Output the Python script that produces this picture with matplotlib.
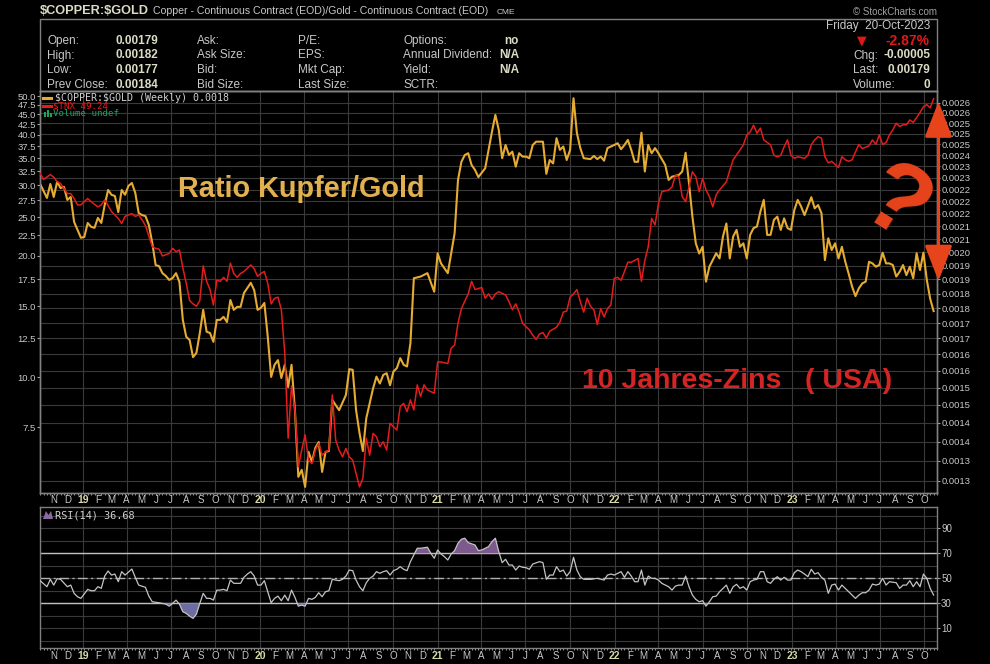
import numpy as np
import pandas as pd
import matplotlib
matplotlib.use('Agg')
import matplotlib.pyplot as plt
import matplotlib.dates as mdates
from matplotlib.patches import FancyArrowPatch, Rectangle, Polygon
from matplotlib.lines import Line2D
from matplotlib.ticker import FixedLocator, NullLocator, FixedFormatter

plt.rcParams['font.family'] = ['Liberation Sans', 'DejaVu Sans']

# ---------------- data (weekly closes, week index from START) ----------------
START = '2018-10-05'

ratio_week = [0, 2, 3, 4, 5, 6, 7, 8, 9, 10, 11, 12, 13, 14, 15, 16, 17, 18, 19, 20,
              21, 22, 23, 24, 25, 26, 27, 28, 29, 30, 31, 32, 33, 34, 35, 36, 37, 38, 39, 40,
              41, 42, 43, 44, 45, 46, 47, 48, 49, 50, 51, 52, 53, 54, 55, 56, 57, 58, 59, 60,
              61, 62, 63, 64, 65, 66, 67, 68, 69, 70, 71, 72, 73, 74, 75, 76, 77, 78, 79, 80,
              81, 82, 83, 84, 85, 86, 88, 90, 91, 92, 93, 94, 95, 96, 97, 98, 99, 100, 101, 102,
              103, 104, 105, 106, 107, 108, 109, 110, 112, 114, 116, 117, 118, 120, 121, 122, 123, 124, 125, 126,
              127, 128, 129, 130, 131, 133, 134, 135, 136, 137, 138, 139, 140, 141, 142, 143, 144, 145, 146, 148,
              149, 150, 151, 152, 153, 154, 155, 156, 157, 158, 159, 160, 162, 163, 164, 165, 166, 167, 169, 170,
              171, 172, 173, 174, 175, 176, 177, 178, 179, 180, 181, 182, 184, 185, 186, 188, 189, 190, 191, 192,
              193, 194, 195, 196, 197, 199, 200, 201, 202, 203, 204, 205, 206, 207, 208, 209, 210, 211, 212, 213,
              214, 215, 216, 217, 218, 219, 220, 221, 222, 223, 224, 225, 227, 228, 229, 230, 231, 232, 233, 234,
              235, 236, 237, 238, 239, 240, 241, 242, 243, 244, 245, 246, 247, 248, 249, 250, 251, 252, 253, 254,
              255, 256, 257, 258, 259, 260, 261, 262, 263]
ratio_vals = [.002231, .002173, .002231, .002177, .002240, .002214, .002219, .002165, .002177, .002077,
              .002046, .002016, .002019, .002073, .002058, .002054, .002093, .002073, .002144, .002206,
              .002186, .002181, .002116, .002206, .002186, .002223, .002235, .002194, .002112, .002104,
              .002100, .002065, .001997, .001915, .001911, .001886, .001876, .001862, .001869, .001886,
              .001855, .001727, .001673, .001663, .001610, .001623, .001685, .001760, .001689, .001685,
              .001657, .001727, .001727, .001737, .001720, .001793, .001760, .001770, .001770, .001817,
              .001834, .001852, .001827, .001760, .001767, .001783, .001673, .001551, .001587, .001601,
              .001548, .001587, .001522, .001587, .001457, .001285, .001302, .001261, .001347, .001322,
              .001357, .001372, .001297, .001347, .001349, .001485, .001457, .001499, .001574, .001572,
              .001457, .001396, .001349, .001435, .001476, .001518, .001552, .001532, .001557, .001562,
              .001527, .001567, .001577, .001607, .001587, .001582, .001653, .001868, .001874, .001886,
              .001821, .001958, .001921, .001886, .001958, .002033, .002248, .002326, .002356, .002364,
              .002312, .002291, .002260, .002279, .002298, .002462, .002541, .002470, .002342, .002401,
              .002356, .002371, .002305, .002364, .002349, .002349, .002342, .002401, .002416, .002416,
              .002274, .002334, .002319, .002432, .002379, .002394, .002334, .002379, .002622, .002455,
              .002387, .002342, .002338, .002352, .002338, .002349, .002331, .002387, .002401, .002409,
              .002382, .002401, .002424, .002379, .002326, .002326, .002457, .002284, .002401, .002364,
              .002387, .002364, .002312, .002248, .002262, .002269, .002284, .002366, .002234, .002098,
              .001995, .001957, .001982, .001856, .001909, .001958, .001939, .002021, .002071, .001939,
              .002021, .002046, .001982, .001995, .001939, .002027, .002053, .002059, .002117, .002165,
              .002027, .002027, .002085, .002098, .002046, .002091, .002053, .002046, .002124, .002165,
              .002138, .002104, .002176, .002131, .002144, .002111, .001933, .002014, .001970, .001995,
              .001939, .001982, .001927, .001884, .001839, .001806, .001833, .001850, .001856, .001927,
              .001921, .001909, .001915, .001960, .001921, .001921, .001915, .001874, .001891, .001915,
              .001879, .001909, .001868, .001958, .001897, .001960, .001862, .001797, .001756]

tnx_week = [0, 1, 3, 4, 5, 6, 8, 9, 10, 11, 12, 14, 15, 17, 18, 19, 21, 23, 24, 25,
            27, 28, 29, 30, 31, 33, 34, 35, 36, 38, 39, 40, 41, 42, 43, 44, 45, 46, 47, 48,
            49, 50, 51, 52, 53, 54, 55, 56, 57, 58, 59, 60, 62, 63, 64, 65, 66, 67, 68, 69,
            70, 71, 72, 73, 74, 75, 76, 77, 78, 79, 80, 81, 82, 83, 84, 85, 86, 87, 88, 89,
            90, 91, 92, 93, 94, 95, 96, 97, 98, 99, 100, 101, 102, 103, 105, 106, 107, 108, 109, 110,
            111, 112, 113, 114, 116, 117, 118, 120, 121, 122, 123, 124, 126, 127, 128, 130, 131, 132, 133, 134,
            135, 137, 138, 139, 140, 141, 142, 144, 145, 146, 147, 148, 149, 150, 152, 153, 154, 155, 156, 157,
            158, 159, 160, 161, 162, 163, 164, 165, 166, 167, 168, 169, 170, 171, 172, 173, 174, 176, 177, 178,
            179, 180, 181, 182, 183, 185, 186, 187, 188, 189, 190, 191, 192, 193, 194, 195, 196, 197, 198, 199,
            200, 202, 203, 204, 206, 207, 208, 209, 210, 211, 212, 213, 215, 216, 217, 218, 219, 220, 221, 222,
            223, 225, 226, 227, 228, 229, 230, 231, 232, 233, 234, 235, 236, 237, 238, 239, 240, 241, 242, 243,
            244, 245, 246, 247, 248, 249, 250, 251, 252, 253, 254, 255, 256, 257, 258, 259, 260, 261, 262, 263]
tnx_vals = [32.1, 31.0, 31.9, 31.4, 30.6, 30.3, 28.6, 28.6, 27.8, 26.8, 26.8, 27.8, 27.3, 26.5, 26.8, 27.6, 25.8, 24.8, 24.1, 25.1,
            25.5, 25.1, 25.3, 24.6, 23.8, 21.1, 20.9, 20.8, 20.0, 20.3, 20.9, 20.5, 20.7, 18.7, 17.1, 15.5, 15.2, 15.0, 15.5, 18.9,
            17.3, 16.5, 15.1, 17.4, 17.3, 17.7, 17.3, 19.2, 18.1, 17.7, 18.1, 18.3, 19.0, 18.6, 17.8, 18.1, 18.3, 17.1, 15.2, 15.7,
            15.8, 14.7, 11.5, 7.04, 9.5, 8.28, 5.98, 6.58, 7.18, 6.21, 6.09, 6.58, 6.84, 6.39, 6.51, 6.58, 9.03, 6.97, 6.58, 6.33,
            6.64, 6.33, 6.21, 5.76, 5.33, 5.60, 7.04, 6.39, 7.24, 7.10, 6.71, 6.90, 6.58, 7.67, 7.38, 8.44, 8.60, 8.20, 8.77, 8.28,
            9.56, 8.95, 9.56, 9.29, 9.11, 10.9, 10.9, 10.8, 11.8, 12.0, 13.6, 14.8, 16.1, 17.3, 16.5, 16.7, 15.7, 16.1, 15.6, 16.1,
            16.3, 16.0, 15.4, 14.7, 15.2, 14.5, 13.6, 13.1, 12.7, 12.4, 12.8, 12.9, 12.5, 13.0, 13.3, 13.7, 14.5, 14.6, 15.8, 16.1,
            16.5, 15.4, 14.5, 15.7, 15.0, 14.7, 13.5, 14.8, 14.1, 14.8, 15.1, 17.6, 17.7, 17.4, 18.3, 19.3, 19.3, 19.7, 17.3, 19.5,
            21.1, 24.8, 23.9, 27.0, 28.9, 29.2, 29.7, 31.8, 31.5, 28.1, 27.3, 29.7, 32.4, 31.5, 28.9, 31.2, 29.2, 28.1, 26.5, 28.4,
            29.2, 30.6, 32.7, 34.7, 36.7, 37.8, 40.0, 40.7, 42.3, 40.4, 41.6, 38.9, 37.8, 35.6, 35.3, 35.6, 37.4, 38.9, 35.6, 35.0,
            35.3, 35.0, 35.6, 37.8, 38.9, 39.6, 39.3, 35.3, 34.1, 34.4, 33.8, 33.2, 35.3, 34.7, 34.4, 34.7, 36.3, 37.9, 37.0, 37.3,
            37.6, 38.9, 37.9, 40.0, 37.9, 38.3, 40.0, 41.2, 42.8, 42.0, 42.4, 42.4, 43.6, 43.0, 44.2, 45.5, 47.0, 47.6, 46.7, 49.24]

rsi_week = [0, 2, 3, 4, 5, 6, 8, 9, 10, 11, 12, 14, 15, 16, 17, 18, 19, 20, 21, 22,
            23, 24, 25, 27, 28, 29, 31, 32, 33, 35, 37, 38, 39, 40, 41, 42, 43, 44, 45, 46,
            47, 48, 49, 50, 51, 52, 53, 54, 55, 56, 57, 58, 59, 60, 61, 62, 63, 64, 65, 66,
            67, 68, 69, 70, 71, 72, 73, 74, 75, 76, 77, 78, 79, 80, 81, 82, 83, 84, 85, 86,
            87, 88, 89, 90, 91, 92, 93, 94, 95, 96, 97, 98, 99, 100, 101, 102, 103, 104, 105, 106,
            107, 108, 109, 111, 112, 114, 115, 116, 117, 118, 119, 120, 121, 122, 123, 124, 125, 126, 128, 129,
            130, 132, 133, 134, 135, 136, 137, 138, 139, 140, 141, 142, 143, 144, 145, 147, 148, 149, 150, 151,
            152, 153, 154, 155, 156, 157, 158, 159, 160, 162, 164, 166, 167, 168, 169, 171, 172, 173, 174, 175,
            176, 177, 178, 179, 180, 181, 182, 183, 185, 186, 187, 188, 189, 190, 191, 192, 193, 194, 195, 196,
            197, 198, 199, 200, 201, 202, 203, 204, 205, 206, 207, 208, 209, 210, 211, 212, 213, 214, 215, 216,
            217, 218, 219, 220, 221, 222, 223, 224, 225, 226, 227, 228, 229, 230, 231, 232, 233, 234, 235, 236,
            237, 238, 240, 241, 242, 243, 244, 245, 246, 247, 248, 249, 250, 252, 253, 254, 255, 256, 257, 258,
            259, 260, 261, 262, 263]
rsi_vals = [48.1, 43.3, 49.2, 44.6, 49.7, 49.2, 43.3, 44.6, 38.0, 35.3, 34.0, 41.2, 40.1, 40.1, 43.3, 42.0, 51.8, 55.8, 52.6, 53.4,
            47.3, 55.3, 52.6, 57.4, 50.8, 44.6, 42.8, 35.8, 31.3, 30.5, 29.4, 27.8, 30.0, 32.6, 29.4, 23.3, 22.0, 19.8, 18.0, 21.4,
            30.0, 38.0, 34.0, 34.0, 32.6, 40.6, 40.6, 41.2, 40.1, 48.6, 46.0, 46.0, 46.0, 50.8, 53.4, 55.3, 51.8, 44.6, 44.6, 48.1,
            39.3, 30.5, 34.0, 35.8, 32.1, 36.6, 32.1, 40.6, 34.8, 27.8, 28.6, 27.8, 34.0, 33.2, 34.8, 38.5, 35.3, 39.3, 40.1, 49.2,
            48.6, 48.1, 49.2, 51.8, 56.6, 56.1, 48.6, 43.3, 40.1, 46.5, 50.0, 51.8, 55.3, 54.0, 55.3, 56.1, 52.6, 56.1, 57.2, 59.3,
            57.2, 56.1, 63.3, 74.0, 74.0, 74.8, 70.0, 66.0, 72.6, 69.4, 67.3, 64.6, 69.4, 72.1, 78.0, 81.2, 82.0, 78.5, 76.6, 72.1,
            72.6, 75.3, 79.3, 82.0, 71.3, 62.5, 65.2, 60.6, 60.6, 56.6, 59.8, 58.8, 58.5, 57.2, 61.4, 63.3, 62.5, 49.2, 52.6, 52.6,
            59.3, 55.3, 56.6, 51.8, 55.3, 66.8, 56.6, 51.3, 49.2, 49.2, 50.0, 48.6, 52.6, 53.4, 52.6, 55.3, 50.8, 55.3, 51.8, 47.3,
            47.3, 56.6, 44.6, 51.8, 50.0, 50.0, 48.6, 46.0, 43.3, 40.6, 43.8, 44.6, 44.6, 51.8, 43.3, 36.6, 33.2, 31.3, 32.1, 27.8,
            31.3, 35.3, 35.8, 39.3, 42.0, 44.6, 38.0, 43.3, 45.2, 42.0, 43.3, 40.6, 47.3, 48.6, 49.2, 55.3, 55.3, 47.3, 46.0, 49.2,
            51.3, 48.6, 50.8, 48.6, 48.6, 54.5, 56.6, 55.3, 53.4, 51.3, 57.2, 53.4, 54.5, 50.8, 48.6, 38.0, 44.6, 45.4, 40.6, 44.6,
            42.0, 39.3, 34.0, 36.6, 38.5, 38.5, 40.6, 45.4, 44.6, 45.4, 50.0, 44.6, 47.3, 46.5, 42.0, 44.6, 44.6, 48.1, 43.3, 47.3,
            43.3, 53.4, 50.0, 42.0, 36.68]

# ---------------- axis ticks / labels ----------------
left_ticks = [7.5, 10.0, 12.5, 15.0, 17.5, 20.0, 22.5, 25.0, 27.5, 30.0, 32.5, 35.0, 37.5, 40.0, 42.5, 45.0, 47.5, 50.0]
left_labels = ['7.5', '10.0', '12.5', '15.0', '17.5', '20.0', '22.5', '25.0', '27.5', '30.0', '32.5', '35.0',
               '37.5', '40.0', '42.5', '45.0', '47.5', '50.0']
right_ticks = [0.0012750, 0.0013241, 0.0013732, 0.0014223, 0.0014714, 0.0015204, 0.0015695, 0.0016186,
               0.0016677, 0.0017168, 0.0017659, 0.0018150, 0.0018641, 0.0019132, 0.0019623, 0.0020113,
               0.0020604, 0.0021095, 0.0021586, 0.0022077, 0.0022568, 0.0023059, 0.0023550, 0.0024041,
               0.0024532, 0.0025022, 0.0025513, 0.0026004]
right_labels = ['0.0013', '0.0013', '0.0014', '0.0014', '0.0015', '0.0015', '0.0016', '0.0016', '0.0017', '0.0017',
                '0.0018', '0.0018', '0.0019', '0.0019', '0.0020', '0.0021', '0.0021', '0.0022', '0.0022', '0.0022',
                '0.0023', '0.0023', '0.0024', '0.0025', '0.0025', '0.0025', '0.0026', '0.0026']
rsi_ticks = [10, 30, 50, 70, 90]
rsi_labels = ['10', '30', '50', '70', '90']
month_letters = ['J', 'F', 'M', 'A', 'M', 'J', 'J', 'A', 'S', 'O', 'N', 'D']

# ---------------- colours ----------------
BG = 'black'
GRID = '#3a3a3a'
FRAME = '#808080'
TXT = '#c8c8c8'
GOLD = '#e6ac32'
RED = '#e41c1c'
ANN = '#e8441c'

W, H = 990, 664
fig = plt.figure(figsize=(W / 100, H / 100), dpi=100, facecolor=BG)


def fx(px):
    return px / W


def fy(py):
    return 1 - py / H


def wdates(weeks):
    return mdates.date2num(np.datetime64(START) + np.array(weeks) * np.timedelta64(7, 'D'))


x0 = mdates.date2num(np.datetime64(START))
XLIM = (x0 - 0.3, x0 + 1848)

L, R = 40, 937
MAIN_T, MAIN_B = 91, 493
RSI_T, RSI_B = 506.5, 647.5

months = pd.date_range('2018-11-01', '2023-10-01', freq='MS')
mpos = mdates.date2num(months.to_pydatetime())
mlabels = [f'{d.year % 100}' if d.month == 1 else month_letters[d.month - 1] for d in months]
quarters = mdates.date2num(pd.date_range('2019-01-01', '2023-10-01', freq='QS').to_pydatetime())
week_ticks = wdates(range(0, 265))


def style_x(a, pad):
    a.set_xlim(XLIM)
    a.xaxis.set_major_locator(FixedLocator(mpos))
    a.xaxis.set_major_formatter(FixedFormatter(mlabels))
    a.xaxis.set_minor_locator(FixedLocator(week_ticks))
    a.tick_params(axis='x', which='major', length=0, pad=pad, labelsize=7, labelcolor=TXT)
    a.tick_params(axis='x', which='minor', length=1.6, width=0.7, color='#9a9a9a', direction='out')
    for lbl, d in zip(a.get_xticklabels(), months):
        if d.month == 1:
            lbl.set_fontweight('bold')
            lbl.set_color('#d8d8a8')
            lbl.set_fontsize(7.5)
    for q in quarters:
        a.axvline(q, color=GRID, lw=0.8, zorder=0.5)
    for s in a.spines.values():
        s.set_color(FRAME)
        s.set_linewidth(1)


# ---------------- main panel ----------------
ax = fig.add_axes([fx(L), fy(MAIN_B), fx(R) - fx(L), (MAIN_B - MAIN_T) / H])
ax.set_facecolor(BG)
ax.set_yscale('log')
ax.set_ylim(0.0012465, 0.002658)
ax.yaxis.set_major_locator(FixedLocator(right_ticks))
ax.yaxis.set_major_formatter(FixedFormatter(right_labels))
ax.yaxis.set_minor_locator(NullLocator())
for v in right_ticks:
    ax.axhline(v, color=GRID, lw=0.8, zorder=0.5)
style_x(ax, 1.6)
ax.plot(wdates(ratio_week), ratio_vals, color=GOLD, lw=1.5, zorder=3)

ax2 = ax.twinx()
ax2.set_yscale('log')
ax2.set_ylim(5.146, 51.46)
ax2.yaxis.set_major_locator(FixedLocator(left_ticks))
ax2.yaxis.set_major_formatter(FixedFormatter(left_labels))
ax2.yaxis.set_minor_locator(NullLocator())
ax2.yaxis.tick_left()
ax2.yaxis.set_label_position('left')
ax2.tick_params(axis='y', which='major', left=True, right=False, labelleft=True, labelright=False,
                length=2.2, width=0.8, color='#a0a0a0', labelcolor=TXT, labelsize=6.8, pad=0.6)
for s in ax2.spines.values():
    s.set_color(FRAME)
    s.set_linewidth(1)
ax2.plot(wdates(tnx_week), tnx_vals, color=RED, lw=1.1, zorder=3)

# host axis ticks on the right (twinx moved them to the left)
ax.yaxis.tick_right()
ax.yaxis.set_label_position('right')
ax.tick_params(axis='y', which='major', right=True, left=False, labelright=True, labelleft=False,
               length=2.2, width=0.8, color='#a0a0a0', labelcolor=TXT, labelsize=6.8, pad=0.8)

# ---------------- RSI panel ----------------
rax = fig.add_axes([fx(L), fy(RSI_B), fx(R) - fx(L), (RSI_B - RSI_T) / H])
rax.set_facecolor(BG)
rax.set_ylim(-5.2, 107.3)
for v in range(0, 101, 10):
    rax.axhline(v, color=GRID, lw=0.8, zorder=0.5)
style_x(rax, 2.2)
rax.yaxis.tick_right()
rax.set_yticks(rsi_ticks)
rax.set_yticklabels(rsi_labels)
rax.tick_params(axis='y', right=True, left=False, labelright=True, labelleft=False,
                length=2.2, width=0.8, color='#a0a0a0', labelcolor=TXT, labelsize=7, pad=0.8)
rax.axhline(70, color='#c0c0c0', lw=1.0, zorder=1)
rax.axhline(30, color='#c0c0c0', lw=1.0, zorder=1)
rax.axhline(50, color='#b0b0b0', lw=1.0, ls=(0, (7, 2.5, 1.5, 2.5)), zorder=1)
rx = wdates(rsi_week)
ry = np.array(rsi_vals)
rax.fill_between(rx, ry, 70, where=ry > 70, interpolate=True, color='#7c5a8e', lw=0, zorder=2)
rax.fill_between(rx, ry, 30, where=ry < 30, interpolate=True, color='#6c6ca2', lw=0, zorder=2)
rax.plot(rx, ry, color='#c4c4c4', lw=0.9, zorder=3)

# ---------------- overlay (pixel coordinates) ----------------
ov = fig.add_axes([0, 0, 1, 1])
ov.set_xlim(0, W)
ov.set_ylim(H, 0)
ov.axis('off')
ov.patch.set_alpha(0)

ov.add_patch(Rectangle((40, 19), 897, 72, fill=False, ec=FRAME, lw=1))

# header
ov.text(40, 11, r'\$COPPER:\$GOLD', fontsize=9.2, fontweight='bold', color='#dcdcc4', va='center', ha='left')
ov.text(153, 11.5, 'Copper - Continuous Contract (EOD)/Gold - Continuous Contract (EOD)', fontsize=7.6,
        color=TXT, va='center', ha='left')
ov.text(497, 12, 'CME', fontsize=6, color=TXT, va='center', ha='left')
ov.text(937, 12, '\u00a9 StockCharts.com', fontsize=7, color='#a0a0a0', va='center', ha='right')

rows = [41, 55.5, 70, 84.5]
col1 = ['Open:', 'High:', 'Low:', 'Prev Close:']
col1v = ['0.00179', '0.00182', '0.00177', '0.00184']
col2 = ['Ask:', 'Ask Size:', 'Bid:', 'Bid Size:']
col3 = ['P/E:', 'EPS:', 'Mkt Cap:', 'Last Size:']
col4 = ['Options:', 'Annual Dividend:', 'Yield:', 'SCTR:']
col4v = ['no', 'N/A', 'N/A', '']
for yy, a, av, b, c, d, dv in zip(rows, col1, col1v, col2, col3, col4, col4v):
    ov.text(47, yy, a, fontsize=8.5, color=TXT, va='center')
    ov.text(115, yy, av, fontsize=8.5, color='#dcdcc4', fontweight='bold', va='center')
    ov.text(197, yy, b, fontsize=8.5, color=TXT, va='center')
    ov.text(298, yy, c, fontsize=8.5, color=TXT, va='center')
    ov.text(403, yy, d, fontsize=8.5, color=TXT, va='center')
    ov.text(519, yy, dv, fontsize=8.5, color='#dcdcc4', fontweight='bold', va='center', ha='right')

ov.text(930, 26, 'Friday  20-Oct-2023', fontsize=8.5, color=TXT, va='center', ha='right')
ov.text(862, 41, '\u25bc', fontsize=9, color='#e01818', va='center', ha='center', family='DejaVu Sans')
ov.text(930, 41, '-2.87%', fontsize=10, color='#e01818', fontweight='bold', va='center', ha='right')
ov.text(853, 55.5, 'Chg:', fontsize=8.5, color=TXT, va='center')
ov.text(930, 55.5, '-0.00005', fontsize=8.5, color='#dcdcc4', fontweight='bold', va='center', ha='right')
ov.text(853, 70, 'Last:', fontsize=8.5, color=TXT, va='center')
ov.text(930, 70, '0.00179', fontsize=8.5, color='#dcdcc4', fontweight='bold', va='center', ha='right')
ov.text(853, 84.5, 'Volume:', fontsize=8.5, color=TXT, va='center')
ov.text(930, 84.5, '0', fontsize=8.5, color='#dcdcc4', fontweight='bold', va='center', ha='right')

# legend
ov.add_line(Line2D([43, 51], [98, 98], color=GOLD, lw=2.2))
ov.text(55, 98, r'\$COPPER:\$GOLD (Weekly) 0.0018', fontsize=7.2, family='DejaVu Sans Mono',
        color='#d0d0d0', va='center')
ov.add_line(Line2D([43, 51], [105.8, 105.8], color=RED, lw=2.2))
ov.text(53, 105.8, r'\$TNX 49.24', fontsize=6.6, family='DejaVu Sans Mono', color=RED, va='center')
for bx, bh in zip([43.5, 46.5, 49.5], [5, 7, 4]):
    ov.add_patch(Rectangle((bx, 116.5 - bh), 2, bh, color='#20a060', lw=0))
ov.text(53, 113.6, 'Volume undef', fontsize=6.6, family='DejaVu Sans Mono', color='#20a060', va='center')

# RSI label
ov.add_patch(Polygon([(43, 519), (46, 511), (48.5, 515), (51, 511), (53, 519)], closed=True,
                     color='#8a6a9e', lw=0))
ov.text(55, 515, 'RSI(14) 36.68', fontsize=7.4, family='DejaVu Sans Mono', color='#d0d0d0', va='center')

# annotations
ov.text(178, 197, 'Ratio Kupfer/Gold', fontsize=20.8, fontweight='bold', color='#e2b04e',
        va='baseline', ha='left')
ov.text(582, 388, '10 Jahres-Zins   ( USA)', fontsize=20.5, fontweight='bold', color='#d42424',
        va='baseline', ha='left')
ov.text(894, 207, '?', fontsize=72, fontweight='bold', color=ANN, rotation=-32,
        va='center', ha='center')
arrow = FancyArrowPatch((938.5, 281), (938.5, 101.5), arrowstyle='<|-|>,head_length=2.2,head_width=0.85',
                        mutation_scale=10, lw=2.2, color=ANN, shrinkA=0, shrinkB=0)
ov.add_patch(arrow)

fig.savefig('out.png', dpi=100, facecolor=BG)
